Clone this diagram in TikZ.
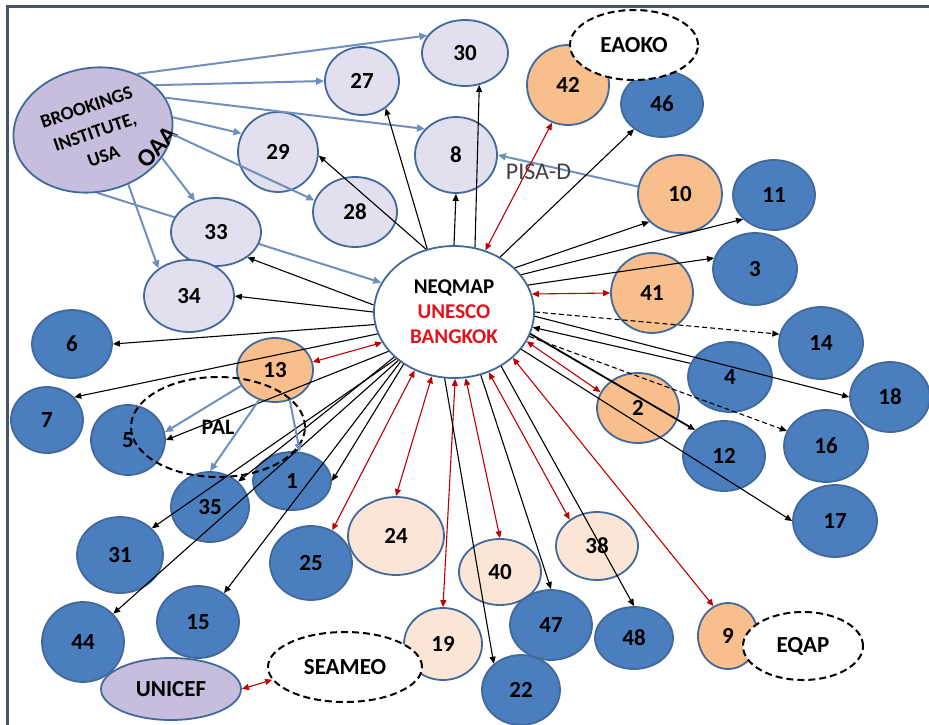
\documentclass[tikz,border=0pt]{standalone}
\usepackage{fontspec}
\setmainfont{Carlito}
\usetikzlibrary{shapes.geometric,arrows.meta}
\pgfdeclarelayer{behind}
\pgfsetlayers{behind,main}

\definecolor{nodeblue}{HTML}{4A7EBF}
\definecolor{nodeedge}{HTML}{41699A}
\definecolor{nodeorange}{HTML}{F8BE8C}
\definecolor{nodelilac}{HTML}{E2DFEE}
\definecolor{nodepurple}{HTML}{C6BEDC}
\definecolor{nodepeach}{HTML}{FBE5D6}
\definecolor{linkred}{HTML}{C00000}
\definecolor{linkblue}{HTML}{6F8FBE}
\definecolor{textred}{HTML}{E3121B}
\definecolor{framegrey}{HTML}{44546A}

\begin{document}
\begin{tikzpicture}[x=1pt,y=-1pt,
  bubble/.style={ellipse, draw=nodeedge, line width=1.8pt, inner sep=0pt,
    font=\fontsize{23}{25}\selectfont\bfseries},
  sz/.style 2 args={minimum width=#1pt, minimum height=#2pt},
  bluenode/.style={bubble, fill=nodeblue},
  orangenode/.style={bubble, fill=nodeorange},
  lilacnode/.style={bubble, fill=nodelilac},
  peachnode/.style={bubble, fill=nodepeach},
  purplenode/.style={bubble, fill=nodepurple},
  dashnode/.style={bubble, fill=white, draw=black, line width=2pt, dash pattern=on 7pt off 4pt},
  arr/.style={-{Triangle[length=7pt,width=6pt]}, line width=1.1pt},
  dasharr/.style={arr, dash pattern=on 5pt off 3pt},
  redarr/.style={{Triangle[length=7pt,width=6pt]}-{Triangle[length=7pt,width=6pt]}, linkred, line width=1.1pt},
  bluearr/.style={-{Triangle[length=8pt,width=7pt]}, linkblue, line width=2pt}]

  \useasboundingbox (0,0) rectangle (929,725);
  \draw[framegrey, line width=3pt] (7,725) -- (7,7) -- (929,7);

  \node[purplenode, sz={160}{124}, rotate=10] (brook) at (93,130) {};
  \node[align=center, rotate=19, font=\fontsize{19}{26}\selectfont\bfseries] (brooktext) at (95,132)
    {BROOKINGS\\INSTITUTE,\\USA};
  \node[font=\fontsize{25}{27}\selectfont\bfseries, rotate=48] (oaa) at (157,147) {OAA};

  \node[lilacnode, sz={86}{66}] (n30) at (465,53) {30};
  \node[lilacnode, sz={74}{68}] (n27) at (362,81) {27};
  \node[lilacnode, sz={80}{80}] (n29) at (278,152) {29};
  \node[lilacnode, sz={82}{76}] (n8) at (456,155) {8};
  \node[lilacnode, sz={84}{70}] (n28) at (355,212) {28};
  \node[lilacnode, sz={90}{68}] (n33) at (216,232) {33};
  \node[lilacnode, sz={90}{72}] (n34) at (189,296) {34};

  \node[bubble, fill=white, sz={160}{132}, align=center,
    font=\fontsize{21}{25}\selectfont\bfseries] (neq) at (454,312)
    {NEQMAP\\\textcolor{textred}{UNESCO}\\\textcolor{textred}{BANGKOK}};

  \node[orangenode, sz={82}{80}] (n42) at (568,85) {42};
  \node[bluenode, sz={82}{66}] (n46) at (662,104) {46};
  \node[dashnode, sz={128}{70}] (eaoko) at (634,45) {EAOKO};
  \node[orangenode, sz={84}{78}] (n10) at (680,194) {10};
  \node[bluenode, sz={82}{70}] (n11) at (774,195) {11};
  \node[bluenode, sz={84}{72}] (n3) at (755,269) {3};
  \node[orangenode, sz={82}{80}] (n41) at (652,293) {41};
  \node[bluenode, sz={84}{72}] (n14) at (821,343) {14};
  \node[bluenode, sz={84}{70}] (n4) at (730,377) {4};
  \node[bluenode, sz={80}{70}] (n18) at (890,397) {18};
  \node[orangenode, sz={82}{70}] (n2) at (638,408) {2};
  \node[bluenode, sz={82}{70}] (n12) at (724,456) {12};
  \node[bluenode, sz={84}{72}] (n16) at (826,446) {16};
  \node[bluenode, sz={84}{72}] (n17) at (835,521) {17};
  \node[peachnode, sz={82}{68}] (n38) at (597,546) {38};
  \node[peachnode, sz={82}{66}] (n40) at (500,572) {40};
  \node[bluenode, sz={82}{70}] (n47) at (551,625) {47};
  \node[bluenode, sz={78}{62}] (n48) at (634,638) {48};
  \node[bluenode, sz={78}{70}] (n22) at (521,690) {22};
  \node[orangenode, sz={60}{66}] (n9) at (728,636) {9};
  \node[dashnode, sz={120}{68}] (eqap) at (803,646) {EQAP};
  \node[peachnode, sz={78}{72}] (n19) at (443,644) {19};
  \node[dashnode, sz={154}{70}] (seameo) at (345,667) {SEAMEO};
  \node[peachnode, sz={96}{78}] (n24) at (396,536) {24};
  \node[bluenode, sz={82}{74}] (n25) at (311,563) {25};
  \node[bluenode, sz={78}{70}] (n35) at (210,507) {35};
  \node[bluenode, sz={78}{58}] (n1) at (292,481) {1};
  \node[bluenode, sz={74}{70}] (n5) at (128,440) {5};
  \node[bluenode, sz={72}{66}] (n7) at (47,420) {7};
  \node[orangenode, sz={76}{64}] (n13) at (275,370) {13};
  \node[bluenode, sz={80}{68}] (n6) at (72,344) {6};
  \node[bluenode, sz={86}{76}] (n31) at (120,555) {31};
  \node[bluenode, sz={82}{72}] (n15) at (198,622) {15};
  \node[bluenode, sz={82}{80}] (n44) at (83,642) {44};
  \node[purplenode, sz={140}{62}] (unicef) at (171,689) {UNICEF};
  \node[dashnode, fill=none, sz={174}{100}, font=\fontsize{22}{24}\selectfont\bfseries] (pal) at (218,427) {PAL};

  \begin{pgfonlayer}{behind}
    \draw[bluearr] (brook.-96) -- (neq.158);
  \end{pgfonlayer}
  \draw[bluearr] (brook.42) -- (n30.155);
  \draw[bluearr] (brook.26) -- (n27.west);
  \draw[bluearr] (brook.14) -- (n8.140);
  \draw[bluearr] (brook.-1) -- (n29.153);
  \draw[bluearr] (brook.-13) -- (n28.164);
  \draw[bluearr] (brook.-32) -- (n33.124);
  \draw[bluearr] (brook.-67) -- (n34.138);
  \draw[bluearr] (n10.170) -- (n8.0)
    node[pos=0.71, yshift=-8pt, font=\fontsize{24}{26}\selectfont, text=black!75] (pisa) {PISA-D};

  \draw[arr] (neq.113) -- (n27.-49);
  \draw[arr] (neq.114) -- (n29.-5);
  \draw[arr] (neq.90) -- (n8.-90);
  \draw[arr] (neq.72) -- (n30.-66);
  \draw[redarr] (neq.63) -- (n42.-113);
  \draw[arr] (neq.50) -- (n46.-138);
  \draw[arr] (neq.36) -- (n10.-138);
  \draw[arr] (neq.29) -- (n11.-142);
  \draw[arr] (neq.20) -- (n3.165);
  \draw[redarr] (neq.13) -- (n41.180);
  \draw[dasharr] (neq.0) -- (n14.168);
  \draw[arr] (neq.-3) -- (n18.180);
  \draw[arr] (n4.161) -- (neq.-11);
  \draw[arr, line width=1.8pt] (neq.-16) -- (n12.138);
  \draw[dasharr] (neq.-18) -- (n16.159);
  \draw[redarr] (neq.-22) -- (n2.157);
  \draw[arr] (neq.-29) -- (n17.180);
  \draw[redarr] (neq.-38) -- (n9.116);
  \draw[arr] (neq.-49) -- (n48.90);
  \draw[redarr] (neq.-60) -- (n38.136);
  \draw[arr] (neq.-67) -- (n47.90);
  \draw[redarr] (neq.-80) -- (n40.90);
  \draw[redarr] (neq.-89) -- (n19.90);
  \draw[arr] (neq.-98) -- (n22.136);
  \draw[redarr] (neq.-109) -- (n24.90);
  \draw[redarr] (neq.-124) -- (n25.57);
  \draw[arr] (neq.-134) -- (n1.0);
  \draw[arr] (neq.-137) -- (n15.48);
  \draw[arr] (neq.-139) -- (n44.43);
  \draw[arr] (neq.-141) -- (n31.40);
  \draw[arr] (neq.-143) -- (n35.42);
  \draw[arr] (neq.-149) -- (n5.0);
  \draw[redarr] (neq.-157) -- (n13.12);
  \draw[arr] (neq.-164) -- (n7.40);
  \draw[arr] (neq.-171) -- (n6.0);
  \draw[arr] (neq.180) -- (n34.0);
  \draw[arr] (neq.175) -- (n33.-39);

  \draw[bluearr] (n13.-155) -- (n5.12);
  \draw[bluearr] (n13.-118) -- (n35.90);
  \draw[bluearr] (n13.-64) -- (n1.75);
  \draw[redarr] (unicef.east) -- (seameo.190);

\end{tikzpicture}
\end{document}
